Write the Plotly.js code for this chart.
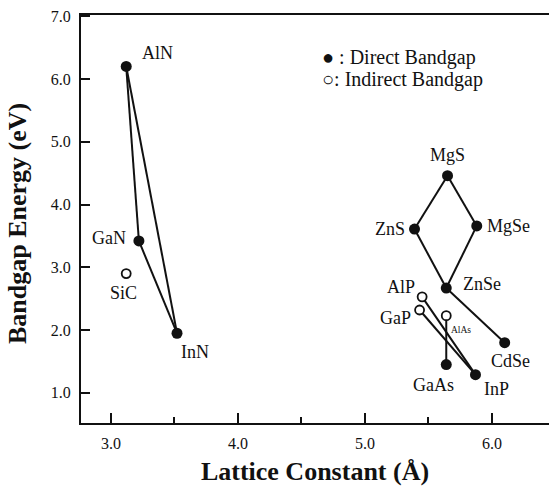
<!DOCTYPE html>
<html><head><meta charset="utf-8">
<script src="https://cdn.plot.ly/plotly-3.0.1.min.js"></script>
<style>html,body{margin:0;padding:0;background:#fff}#c{width:549px;height:486px}</style>
</head><body><div id="c"></div>
<script>
// Compounds: lattice constant (Å) and bandgap (eV)
const names = ["AlN","GaN","InN","SiC","MgS","ZnS","MgSe","ZnSe","CdSe","AlP","GaP","AlAs","GaAs","InP"];
const lattice = [3.12, 3.22, 3.52, 3.12, 5.65, 5.39, 5.88, 5.64, 6.10, 5.45, 5.43, 5.64, 5.64, 5.87];
const bandgap = [6.20, 3.42, 1.95, 2.90, 4.46, 3.61, 3.66, 2.67, 1.80, 2.53, 2.32, 2.23, 1.45, 1.29];
const direct  = [true, true, true, false, true, true, true, true, true, false, false, false, true, true];
// Connecting lines (pairs of compound names)
const links = [["AlN","GaN"],["GaN","InN"],["InN","AlN"],
               ["MgS","ZnS"],["ZnS","ZnSe"],["ZnSe","MgSe"],["MgSe","MgS"],["ZnSe","CdSe"],
               ["AlP","InP"],["GaP","InP"],["AlAs","GaAs"]];
const xTicks = [3.0, 4.0, 5.0, 6.0];
const yTicks = [1.0, 2.0, 3.0, 4.0, 5.0, 6.0, 7.0];
const legendLabels = ["\u25CF : Direct Bandgap", "\u25CB: Indirect Bandgap"];
const xTitle = "Lattice Constant (Å)";
const yTitle = "Bandgap Energy (eV)";

// label offsets in pixels (style only)
const labelShift = {AlN:[31,13],GaN:[-30,3],InN:[18,-19],SiC:[-3,-19],MgS:[0,21],ZnS:[-25,0],
  MgSe:[32,0],ZnSe:[36,4],CdSe:[6,-18],AlP:[-21,10],GaP:[-24,-8],AlAs:[15,-14],GaAs:[-13,-20],InP:[21,-14]};
const labelSize = {AlAs:9.5};

const idx = n => names.indexOf(n);
const serif = "'Liberation Serif', 'Times New Roman', serif";
const traces = [];
links.forEach(([a,b]) => {
  traces.push({x:[lattice[idx(a)], lattice[idx(b)]], y:[bandgap[idx(a)], bandgap[idx(b)]],
    mode:'lines', line:{color:'#111', width:2}, showlegend:false, hoverinfo:'skip'});
});
const dI = names.map((n,i)=>i).filter(i=>direct[i]);
const iI = names.map((n,i)=>i).filter(i=>!direct[i]);
traces.push({x:dI.map(i=>lattice[i]), y:dI.map(i=>bandgap[i]), text:dI.map(i=>names[i]),
  mode:'markers', marker:{color:'#111', size:11, symbol:'circle'}, showlegend:false});
traces.push({x:iI.map(i=>lattice[i]), y:iI.map(i=>bandgap[i]), text:iI.map(i=>names[i]),
  mode:'markers', marker:{color:'#fff', size:9, symbol:'circle', line:{color:'#111', width:1.8}}, showlegend:false});

const annotations = names.map((n,i)=>({x:lattice[i], y:bandgap[i], xref:'x', yref:'y', text:n,
  showarrow:false, xanchor:'center', yanchor:'middle', xshift:labelShift[n][0], yshift:labelShift[n][1],
  font:{family:serif, size:labelSize[n]||18, color:'#111'}}));
legendLabels.forEach((t,k)=>annotations.push({xref:'paper', yref:'paper', x:0.511, y:0.895-k*0.054,
  xanchor:'left', yanchor:'middle', text:t, showarrow:false, font:{family:serif, size:20, color:'#111'}}));
annotations.push({xref:'paper', yref:'paper', x:-0.1368, y:0.49, xanchor:'center', yanchor:'middle',
  textangle:-90, text:yTitle, showarrow:false, font:{family:serif, size:26, weight:'bold', color:'#111'}});

const layout = {
  width:549, height:486, margin:{l:81, r:0, t:15, b:63},
  paper_bgcolor:'#fff', plot_bgcolor:'#fff', showlegend:false,
  font:{family:serif, color:'#111'},
  xaxis:{range:[2.764, 6.449], tickvals:xTicks, ticktext:xTicks.map(v=>v.toFixed(1)),
    ticks:'inside', ticklen:10, tickwidth:2, tickcolor:'#111',
    minor:{dtick:0.5, ticks:'inside', ticklen:6, tickwidth:2, tickcolor:'#111', showgrid:false},
    showline:true, linewidth:2, linecolor:'#111', mirror:true, showgrid:false, zeroline:false,
    tickfont:{family:serif, size:16}, ticklabelstandoff:5,
    title:{text:xTitle, font:{family:serif, size:26, weight:'bold'}, standoff:19}},
  yaxis:{range:[0.52, 7.02], tickvals:yTicks, ticktext:yTicks.map(v=>v.toFixed(1)),
    ticks:'inside', ticklen:9, tickwidth:2, tickcolor:'#111',
    showline:true, linewidth:2, linecolor:'#111', mirror:false, showgrid:false, zeroline:false,
    tickfont:{family:serif, size:16}, ticklabelstandoff:5},
  annotations: annotations
};
Plotly.newPlot('c', traces, layout, {displayModeBar:false, staticPlot:true});
</script></body></html>
